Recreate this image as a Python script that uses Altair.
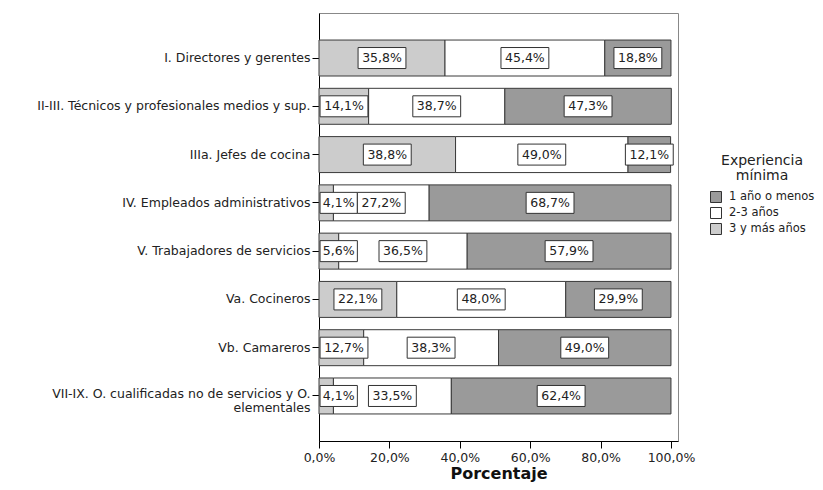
import altair as alt
import pandas as pd

categories = [
    "I. Directores y gerentes",
    "II-III. Técnicos y profesionales medios y sup.",
    "IIIa. Jefes de cocina",
    "IV. Empleados administrativos",
    "V. Trabajadores de servicios",
    "Va. Cocineros",
    "Vb. Camareros",
    "VII-IX. O. cualificadas no de servicios y O. elementales",
]
tres_mas = [35.8, 14.1, 38.8, 4.1, 5.6, 22.1, 12.7, 4.1]
dos_tres = [45.4, 38.7, 49.0, 27.2, 36.5, 48.0, 38.3, 33.5]
uno_menos = [18.8, 47.3, 12.1, 68.7, 57.9, 29.9, 49.0, 62.4]
groups = ["1 año o menos", "2-3 años", "3 y más años"]
colors = ["#9a9a9a", "#ffffff", "#cccccc"]
x_ticks = [0, 20, 40, 60, 80, 100]

rows = []
for i, c in enumerate(categories):
    for g, vals, order in ((groups[2], tres_mas, 0), (groups[1], dos_tres, 1), (groups[0], uno_menos, 2)):
        rows.append({"cat": c, "grupo": g, "valor": vals[i], "orden": order})
df = pd.DataFrame(rows)

FONT = "DejaVu Sans"
TXT = "#222222"

last = categories[-1]
y_label_expr = (
    "datum.label == '" + last + "' ? "
    "['VII-IX. O. cualificadas no de servicios y O.', 'elementales'] : datum.label"
)

y_enc = alt.Y(
    "cat:N",
    sort=categories,
    title=None,
    scale=alt.Scale(paddingInner=0.255, paddingOuter=0.56),
    axis=alt.Axis(
        labelExpr=y_label_expr,
        labelLimit=0,
        tickSize=7,
        tickColor="black",
        domainColor="black",
        labelPadding=2,
        labelFont=FONT,
        labelFontSize=12.5,
        labelColor=TXT,
        labelLineHeight=14,
        labelOffset={"condition": {"test": "datum.label == '" + last + "'", "value": -2}, "value": 0},
    ),
)

x_scale = alt.Scale(domain=[0, 102], nice=False, zero=True)
x_axis = alt.Axis(
    values=x_ticks,
    labelExpr="replace(format(datum.value, '.1f'), '.', ',') + '%'",
    tickSize=7,
    tickColor="black",
    domainColor="black",
    labelPadding=3,
    labelFont=FONT,
    labelFontSize=12.5,
    labelColor=TXT,
    labelFlush=False,
    grid=False,
    titleFont=FONT,
    titleFontSize=16,
    titleFontWeight="bold",
    titleColor="#111111",
    titleY=37,
    titleBaseline="alphabetic",
)

base = alt.Chart(df).transform_stack(
    stack="valor",
    groupby=["cat"],
    as_=["x0", "x1"],
    sort=[alt.SortField("orden", order="ascending")],
)

bars = base.mark_bar(stroke="#3a3a3a", strokeWidth=1).encode(
    x=alt.X("x0:Q", scale=x_scale, axis=x_axis, title="Porcentaje"),
    x2="x1:Q",
    y=y_enc,
    color=alt.Color(
        "grupo:N",
        scale=alt.Scale(domain=groups, range=colors),
        legend=alt.Legend(
            title=["Experiencia", "mínima"],
            orient="none",
            legendX=391,
            legendY=141,
            padding=0,
            titleFont=FONT,
            titleFontSize=14,
            titleFontWeight="normal",
            titleColor=TXT,
            titleAlign="center",
            titleAnchor="middle",
            titleLineHeight=15,
            titlePadding=8,
            labelFont=FONT,
            labelFontSize=11.5,
            labelColor=TXT,
            labelOffset=7,
            symbolType="square",
            symbolSize=121,
            symbolStrokeColor="#333333",
            symbolStrokeWidth=1,
            rowPadding=0,
        ),
    ),
)

lab = (
    base.transform_calculate(
        label="replace(format(datum.valor, '.1f'), '.', ',') + '%'",
        mid="(datum.x0 + datum.x1) / 2",
    )
    .transform_calculate(hw="length(datum.label) > 4 ? 6.8 : 5.3")
    .transform_calculate(lo="max(datum.mid - datum.hw, 0.3)")
    .transform_calculate(hi="datum.lo + 2 * datum.hw", cx="datum.lo + datum.hw")
)

boxes = lab.mark_bar(size=21, fill="white", stroke="#333333", strokeWidth=1).encode(
    x=alt.X("lo:Q", scale=x_scale, axis=x_axis, title="Porcentaje"),
    x2="hi:Q",
    y=y_enc,
)

texts = lab.mark_text(font=FONT, fontSize=12.5, color=TXT).encode(
    x=alt.X("cx:Q", scale=x_scale, axis=x_axis, title="Porcentaje"),
    y=y_enc,
    text="label:N",
)

chart = (
    alt.layer(bars, boxes, texts)
    .properties(
        width=359,
        height=428,
        autosize=alt.AutoSizeParams(type="none"),
        padding={"left": 311, "top": 5, "right": 137, "bottom": 41},
        background="white",
    )
    .configure_view(stroke="#888888", strokeWidth=1)
)

chart.save("out.html", embed_options={"renderer": "svg", "actions": False})
